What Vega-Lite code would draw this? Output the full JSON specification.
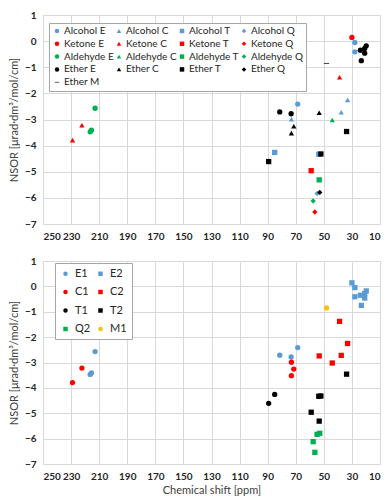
{
  "$schema": "https://vega.github.io/schema/vega-lite/v6.json",
  "padding": {"left": 8, "top": 10, "right": 5, "bottom": 4},
  "spacing": 15,
  "config": {
    "font": "Lato",
    "view": {"stroke": null},
    "axis": {
      "domain": false,
      "ticks": false,
      "grid": true,
      "gridColor": "#d9d9d9",
      "gridWidth": 1,
      "labelFont": "Lato",
      "labelFontSize": 10,
      "labelFontWeight": "bold",
      "labelColor": "#262626",
      "labelPadding": 7,
      "titleFont": "Lato",
      "titleFontSize": 11,
      "titleFontWeight": "normal",
      "titleColor": "#404040"
    },
    "legend": {
      "labelFont": "Lato",
      "labelColor": "#262626",
      "strokeColor": "#a6a6a6",
      "fillColor": "white",
      "symbolStrokeWidth": 0,
      "direction": "horizontal"
    }
  },
  "data": {
    "values": [
      {"s": 30.0, "n": 0.14, "series": "Ketone E", "grp": "E2"},
      {"s": 27.9, "n": -0.05, "series": "Alcohol E", "grp": "E2"},
      {"s": 27.9, "n": -0.41, "series": "Alcohol E", "grp": "E2"},
      {"s": 24.0, "n": -0.35, "series": "Ether E", "grp": "E2"},
      {"s": 20.9, "n": -0.28, "series": "Ether E", "grp": "E2"},
      {"s": 19.8, "n": -0.18, "series": "Ether E", "grp": "E2"},
      {"s": 20.9, "n": -0.46, "series": "Ether E", "grp": "E2"},
      {"s": 23.3, "n": -0.75, "series": "Ether E", "grp": "E2"},
      {"s": 48.1, "n": -0.85, "series": "Ether M", "grp": "M1"},
      {"s": 38.8, "n": -1.38, "series": "Ketone C", "grp": "C2"},
      {"s": 33.1, "n": -2.25, "series": "Alcohol C", "grp": "C2"},
      {"s": 37.6, "n": -2.72, "series": "Alcohol C", "grp": "C2"},
      {"s": 53.3, "n": -2.74, "series": "Ether C", "grp": "C2"},
      {"s": 44.0, "n": -3.02, "series": "Aldehyde C", "grp": "C2"},
      {"s": 68.6, "n": -2.41, "series": "Alcohol E", "grp": "E1"},
      {"s": 81.4, "n": -2.71, "series": "Ether E", "grp": "E1"},
      {"s": 73.3, "n": -2.78, "series": "Ether E", "grp": "E1"},
      {"s": 73.1, "n": -2.99, "series": "Alcohol C", "grp": "C1"},
      {"s": 71.4, "n": -3.26, "series": "Ether C", "grp": "C1"},
      {"s": 73.1, "n": -3.52, "series": "Ether C", "grp": "C1"},
      {"s": 229.0, "n": -3.79, "series": "Ketone C", "grp": "C1"},
      {"s": 222.3, "n": -3.22, "series": "Ketone C", "grp": "C1"},
      {"s": 212.9, "n": -2.57, "series": "Aldehyde E", "grp": "E1"},
      {"s": 215.5, "n": -3.41, "series": "Aldehyde E", "grp": "E1"},
      {"s": 216.4, "n": -3.47, "series": "Aldehyde E", "grp": "E1"},
      {"s": 33.8, "n": -3.46, "series": "Ether T", "grp": "T2"},
      {"s": 85.0, "n": -4.26, "series": "Alcohol T", "grp": "T1"},
      {"s": 89.3, "n": -4.61, "series": "Ether T", "grp": "T1"},
      {"s": 53.6, "n": -4.33, "series": "Alcohol T", "grp": "T2"},
      {"s": 52.1, "n": -4.32, "series": "Ether T", "grp": "T2"},
      {"s": 59.0, "n": -4.96, "series": "Ketone T", "grp": "T2"},
      {"s": 53.3, "n": -5.31, "series": "Aldehyde T", "grp": "T2"},
      {"s": 54.8, "n": -5.83, "series": "Alcohol Q", "grp": "Q2"},
      {"s": 52.9, "n": -5.79, "series": "Ether Q", "grp": "Q2"},
      {"s": 57.6, "n": -6.12, "series": "Aldehyde Q", "grp": "Q2"},
      {"s": 56.4, "n": -6.54, "series": "Ketone Q", "grp": "Q2"}
    ]
  },
  "resolve": {"scale": {"color": "independent", "shape": "independent"}, "legend": {"color": "independent", "shape": "independent"}},
  "vconcat": [
    {
      "width": 337,
      "height": 209,
      "mark": {"type": "point", "filled": true, "size": 28, "opacity": 1},
      "encoding": {
        "x": {
          "field": "s", "type": "quantitative",
          "scale": {"domain": [10, 250], "reverse": true, "nice": false, "zero": false},
          "axis": {"values": [250, 230, 210, 190, 170, 150, 130, 110, 90, 70, 50, 30, 10], "title": null}
        },
        "y": {
          "field": "n", "type": "quantitative",
          "scale": {"domain": [-7, 1], "nice": false, "zero": false},
          "axis": {"values": [1, 0, -1, -2, -3, -4, -5, -6, -7], "title": "NSOR [μrad·dm³/mol/cm]", "titlePadding": 5}
        },
        "color": {
          "field": "series", "type": "nominal",
          "scale": {
            "domain": ["Alcohol E", "Alcohol C", "Alcohol T", "Alcohol Q", "Ketone E", "Ketone C", "Ketone T", "Ketone Q", "Aldehyde E", "Aldehyde C", "Aldehyde T", "Aldehyde Q", "Ether E", "Ether C", "Ether T", "Ether Q", "Ether M"],
            "range": ["#5B9BD5", "#5B9BD5", "#5B9BD5", "#5B9BD5", "#FF0000", "#FF0000", "#FF0000", "#FF0000", "#00B050", "#00B050", "#00B050", "#00B050", "#000000", "#000000", "#000000", "#000000", "#000000"]
          },
          "legend": {"title": null, "orient": "none", "direction": "horizontal", "legendX": 6, "legendY": 8, "columns": 4, "padding": 3, "rowPadding": 2.8, "columnPadding": 0, "symbolSize": 20, "labelOffset": 2, "labelFontSize": 10, "labelLimit": 120}
        },
        "shape": {
          "field": "series", "type": "nominal",
          "scale": {
            "domain": ["Alcohol E", "Alcohol C", "Alcohol T", "Alcohol Q", "Ketone E", "Ketone C", "Ketone T", "Ketone Q", "Aldehyde E", "Aldehyde C", "Aldehyde T", "Aldehyde Q", "Ether E", "Ether C", "Ether T", "Ether Q", "Ether M"],
            "range": ["circle", "triangle-up", "square", "diamond", "circle", "triangle-up", "square", "diamond", "circle", "triangle-up", "square", "diamond", "circle", "triangle-up", "square", "diamond", "M-1,-0.14L1,-0.14L1,0.14L-1,0.14Z"]
          },
          "legend": {"title": null, "orient": "none", "direction": "horizontal", "legendX": 6, "legendY": 8, "columns": 4, "padding": 3, "rowPadding": 2.8, "columnPadding": 0, "symbolSize": 20, "labelOffset": 2, "labelFontSize": 10, "labelLimit": 120}
        }
      }
    },
    {
      "width": 337,
      "height": 203,
      "mark": {"type": "point", "filled": true, "size": 28, "opacity": 1},
      "encoding": {
        "x": {
          "field": "s", "type": "quantitative",
          "scale": {"domain": [10, 250], "reverse": true, "nice": false, "zero": false},
          "axis": {"values": [250, 230, 210, 190, 170, 150, 130, 110, 90, 70, 50, 30, 10], "title": "Chemical shift [ppm]", "titlePadding": 3}
        },
        "y": {
          "field": "n", "type": "quantitative",
          "scale": {"domain": [-7, 1], "nice": false, "zero": false},
          "axis": {"values": [1, 0, -1, -2, -3, -4, -5, -6, -7], "title": "NSOR [μrad·dm³/mol/cm]", "titlePadding": 5}
        },
        "color": {
          "field": "grp", "type": "nominal",
          "scale": {
            "domain": ["E1", "E2", "C1", "C2", "T1", "T2", "Q2", "M1"],
            "range": ["#5B9BD5", "#5B9BD5", "#FF0000", "#FF0000", "#000000", "#000000", "#00B050", "#FFC000"]
          },
          "legend": {"title": null, "orient": "none", "direction": "horizontal", "legendX": 12, "legendY": 2, "columns": 2, "padding": 5, "rowPadding": 6.5, "columnPadding": 4, "symbolSize": 20, "labelOffset": 4, "labelFontSize": 11}
        },
        "shape": {
          "field": "grp", "type": "nominal",
          "scale": {
            "domain": ["E1", "E2", "C1", "C2", "T1", "T2", "Q2", "M1"],
            "range": ["circle", "square", "circle", "square", "circle", "square", "square", "circle"]
          },
          "legend": {"title": null, "orient": "none", "direction": "horizontal", "legendX": 12, "legendY": 2, "columns": 2, "padding": 5, "rowPadding": 6.5, "columnPadding": 4, "symbolSize": 20, "labelOffset": 4, "labelFontSize": 11}
        }
      }
    }
  ]
}
